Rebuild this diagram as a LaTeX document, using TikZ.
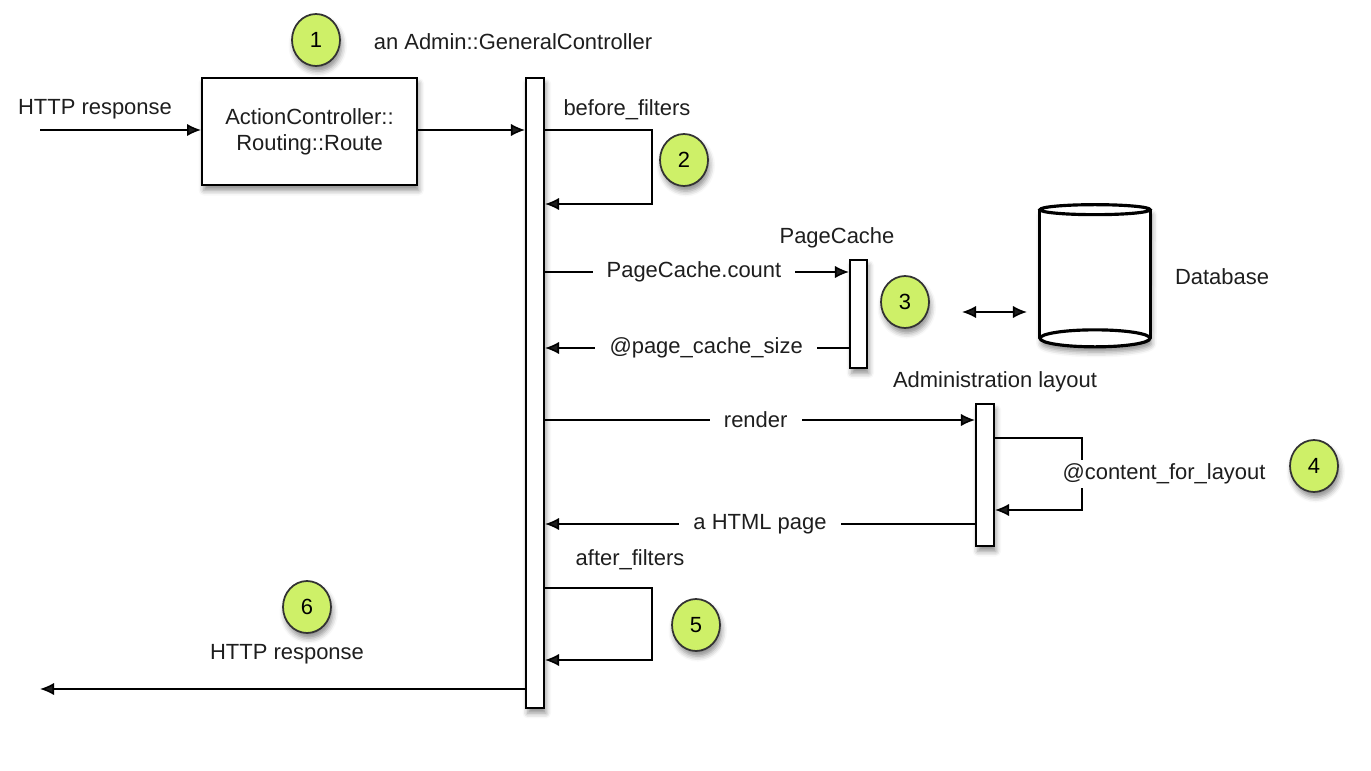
\documentclass[tikz,border=0pt]{standalone}
\usepackage{fontspec}
\setmainfont{Liberation Sans}
\usetikzlibrary{arrows.meta,shapes.geometric,shadows.blur}
\definecolor{badgegreen}{RGB}{206,240,104}
\definecolor{inkgray}{RGB}{30,30,30}

\begin{document}
\begin{tikzpicture}[x=0.02cm,y=-0.02cm,
  font=\fontsize{12.5}{15}\selectfont, color=inkgray,
  softshadow/.style={blur shadow={shadow xshift=1pt,shadow yshift=-3pt,
      shadow blur radius=3pt,shadow opacity=45}},
  box/.style={draw=black,line width=1.1pt,fill=white,softshadow,align=center,
      minimum width=4.3cm,minimum height=2.14cm,inner sep=0pt},
  lifebar/.style={draw=black,line width=1.1pt,fill=white,softshadow,inner sep=0pt,
      minimum width=0.36cm},
  badge/.style={ellipse,draw=black!80,line width=1pt,fill=badgegreen,softshadow,
      minimum width=0.96cm,minimum height=1.04cm,inner sep=0pt,text=black},
  msg/.style={draw=black,line width=0.9pt,-{Latex[length=8pt,width=7pt]}},
  lbl/.style={fill=white,inner xsep=8pt,inner ysep=1pt},
  txt/.style={inner sep=0pt},
  dbline/.style={draw=black,line width=1.8pt}
]
\useasboundingbox (0,0) rectangle (1371,770);

% ---- participants ----
\node[box] (route) at (309.5,131.5) {ActionController::\\Routing::Route};
\node[lifebar,minimum height=12.6cm] (main) at (535,393) {};
\node[lifebar,minimum width=0.34cm,minimum height=2.16cm] (pc) at (858.5,314) {};
\node[lifebar,minimum height=2.84cm] (layout) at (985,475) {};

% database cylinder
\node[minimum width=2.2cm,minimum height=2.56cm,inner sep=0pt] (db) at (1095,274) {};
\fill[white,softshadow] (db.north west) -- (db.south west)
   arc[start angle=180,end angle=360,x radius=1.1cm,y radius=0.17cm]
   -- (db.north east) -- cycle;
\draw[dbline] (db.north west) -- (db.south west);
\draw[dbline] (db.north east) -- (db.south east);
\draw[dbline,fill=white] (db.north) ellipse[x radius=1.1cm,y radius=0.1cm];
\draw[dbline,fill=white] (db.south) ellipse[x radius=1.1cm,y radius=0.17cm];

% ---- texts ----
\node[txt] (ctrlname) at (513,42) {an Admin::GeneralController};
\node[txt] (httpin) at (95,109) {HTTP response};
\node[txt] (bftext) at (627,110) {before\_filters};
\node[txt] (pcname) at (837,238) {PageCache};
\node[txt] (dbname) at (1222,277) {Database};
\node[txt] (layoutname) at (995,382) {Administration layout};
\node[txt] (aftext) at (630,560) {after\_filters};
\node[txt] (httpout) at (287,654) {HTTP response};

% ---- connectors ----
\coordinate (inA) at (40,130);
\draw[msg] (inA) -- (route.west |- inA);
\draw[msg] (route.east |- inA) -- (main.west |- inA);

% before filters loop
\coordinate (bfA) at (652,130);
\coordinate (bfB) at (652,204);
\draw[msg] (main.east |- bfA) -- (bfA) -- (bfB) -- (main.east |- bfB);

% page cache messages
\coordinate (pcA) at (0,272);
\coordinate (pcB) at (0,348);
\draw[msg] (main.east |- pcA) -- node[lbl,pos=0.49] {PageCache.count} (pc.west |- pcA);
\draw[msg] (pc.west |- pcB) -- node[lbl,pos=0.47] {@page\_cache\_size} (main.east |- pcB);

% database access
\coordinate (dbL) at (962,312);
\coordinate (dbR) at (1027,312);
\draw[msg,{Latex[length=8pt,width=7pt]}-{Latex[length=8pt,width=7pt]}] (dbL) -- (dbR);

% render
\coordinate (rA) at (0,420);
\coordinate (rB) at (0,524);
\draw[msg] (main.east |- rA) -- node[lbl,pos=0.49] {render} (layout.west |- rA);

% content_for_layout loop
\coordinate (cfA) at (1082,438);
\coordinate (cfB) at (1082,510);
\draw[msg] (layout.east |- cfA) -- (cfA) -- (cfB) -- (layout.east |- cfB);
\node[fill=white,inner xsep=1pt,inner ysep=2pt] (cftext) at (1164,474) {@content\_for\_layout};

\draw[msg] (layout.west |- rB) -- node[lbl,pos=0.5] {a HTML page} (main.east |- rB);

% after filters loop
\coordinate (afA) at (652,588);
\coordinate (afB) at (652,660);
\draw[msg] (main.east |- afA) -- (afA) -- (afB) -- (main.east |- afB);

% response out
\coordinate (outA) at (40,689);
\draw[msg] (main.west |- outA) -- (outA);

% ---- numbered badges ----
\node[badge] (b1) at (316,40) {1};
\node[badge] (b2) at (684,160) {2};
\node[badge] (b3) at (905,302) {3};
\node[badge] (b4) at (1314,466) {4};
\node[badge] (b5) at (696,625) {5};
\node[badge] (b6) at (307,607) {6};
\end{tikzpicture}
\end{document}
